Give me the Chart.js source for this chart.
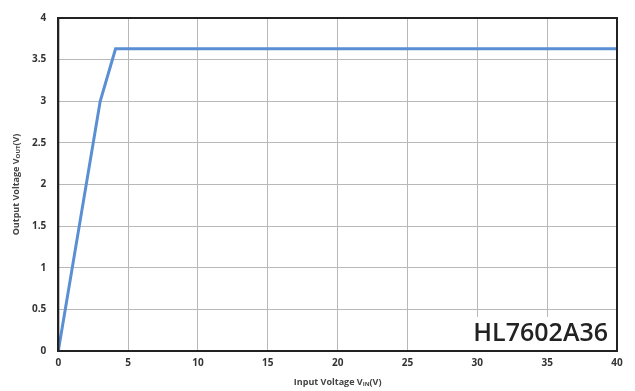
<!DOCTYPE html>
<html lang="en">
<head>
    <meta charset="UTF-8">
    <title>HL7602A36 Output vs Input Voltage</title>
    <script src="https://cdn.jsdelivr.net/npm/chart.js"></script>
    <style>
        html, body { margin: 0; padding: 0; background: #fff; }
        #wrap { width: 635px; height: 391px; position: relative; }
    </style>
</head>
<body>
    <div id="wrap"><canvas id="vChart"></canvas></div>

    <script>
        // data
        const inputVoltage = [0, 3.0, 4.1, 40];
        const outputVoltage = [0, 3.0, 3.63, 3.63];
        const xTicks = [0, 5, 10, 15, 20, 25, 30, 35, 40];
        const yTicks = [0, 0.5, 1, 1.5, 2, 2.5, 3, 3.5, 4];
        const partName = 'HL7602A36';

        const tickFont = { family: 'Open Sans', size: 10, weight: 'bold' };

        // axis titles with subscripts + part label box
        const decorations = {
            id: 'decorations',
            afterDraw(chart) {
                const { ctx, chartArea: a } = chart;
                ctx.save();

                // part name box
                ctx.font = '600 25px "Open Sans"';
                const w = ctx.measureText(partName).width;
                const bx = a.right - w - 9, by = a.bottom - 34;
                ctx.fillStyle = '#fff';
                ctx.fillRect(bx - 6, by, w + 14, 33);
                ctx.fillStyle = '#222';
                ctx.textBaseline = 'middle';
                ctx.fillText(partName, bx, by + 17);

                const drawSub = (parts, x, y) => {
                    let cx = x;
                    parts.forEach(p => {
                        ctx.font = p.sub ? 'bold 6px "Open Sans"' : 'bold 9px "Open Sans"';
                        ctx.fillText(p.t, cx, y + (p.sub ? 2 : 0));
                        cx += ctx.measureText(p.t).width;
                    });
                };
                const measure = parts => parts.reduce((s, p) => {
                    ctx.font = p.sub ? 'bold 6px "Open Sans"' : 'bold 9px "Open Sans"';
                    return s + ctx.measureText(p.t).width;
                }, 0);

                ctx.fillStyle = '#444';
                ctx.textBaseline = 'middle';
                const xt = [{ t: 'Input Voltage V' }, { t: 'IN', sub: true }, { t: '(V)' }];
                const xw = measure(xt);
                drawSub(xt, (a.left + a.right) / 2 - xw / 2, 382);

                const yt = [{ t: 'Output Voltage V' }, { t: 'OUT', sub: true }, { t: '(V)' }];
                const yw = measure(yt);
                ctx.translate(16, (a.top + a.bottom) / 2 + yw / 2);
                ctx.rotate(-Math.PI / 2);
                drawSub(yt, 0, 0);

                ctx.restore();
            }
        };

        new Chart(document.getElementById('vChart'), {
            type: 'line',
            data: {
                datasets: [{
                    data: inputVoltage.map((x, i) => ({ x: x, y: outputVoltage[i] })),
                    borderColor: '#5b8fd4',
                    borderWidth: 3,
                    pointRadius: 0,
                    tension: 0,
                    fill: false
                }]
            },
            options: {
                responsive: true,
                maintainAspectRatio: false,
                animation: false,
                layout: { padding: { left: 20, right: 18, top: 9, bottom: 16 } },
                plugins: { legend: { display: false }, tooltip: { enabled: false } },
                scales: {
                    x: {
                        type: 'linear',
                        min: 0, max: 40,
                        afterBuildTicks: s => { s.ticks = xTicks.map(v => ({ value: v })); },
                        grid: { color: '#b8b8b8', lineWidth: 1, drawTicks: false },
                        border: { color: '#222', width: 2 },
                        ticks: { color: '#333', font: tickFont, padding: 6, maxRotation: 0 }
                    },
                    y: {
                        min: 0, max: 4,
                        afterBuildTicks: s => { s.ticks = yTicks.map(v => ({ value: v })); },
                        grid: { color: '#b8b8b8', lineWidth: 1, drawTicks: false },
                        border: { color: '#222', width: 2 },
                        ticks: { color: '#333', font: tickFont, padding: 12, callback: v => String(v) }
                    }
                }
            },
            plugins: [decorations, {
                id: 'frame',
                afterDatasetsDraw(chart) {
                    const { ctx, chartArea: a } = chart;
                    ctx.save();
                    ctx.strokeStyle = '#222';
                    ctx.lineWidth = 2;
                    ctx.strokeRect(a.left, a.top, a.right - a.left, a.bottom - a.top);
                    ctx.restore();
                }
            }]
        });
    </script>
</body>
</html>
